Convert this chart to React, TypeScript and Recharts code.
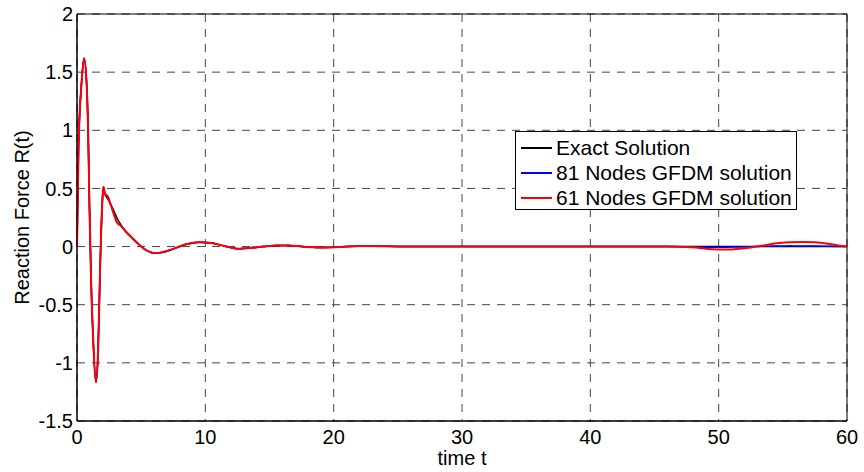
import { LineChart, Line, XAxis, YAxis, CartesianGrid, ReferenceArea, Legend, Label } from 'recharts'

const tValues = [
  0, 0.12, 0.35, 0.55, 0.75, 0.87, 0.97, 1.1, 1.25, 1.48,
  1.64, 1.8, 1.97, 2.05, 2.18, 2.4, 2.6, 2.9, 3.1, 3.4,
  3.8, 4.3, 4.8, 5.3, 6.0, 6.6, 7.5, 8.5, 9.5, 10.5,
  11.5, 12.5, 13.5, 14.5, 15.5, 16.5, 17.5, 19, 20.5, 22,
  24, 27, 30, 35, 40, 44, 46, 47.5, 48.5, 49.5,
  50.5, 51.5, 52.5, 53.5, 54.5, 55.5, 56.5, 57.5, 58.5, 59.3,
  60,
]

const exactValues = [
  0, 0.86, 1.4, 1.62, 1.4, 0.98, 0.35, -0.3, -0.77, -1.165,
  -0.91, -0.19, 0.38, 0.5, 0.45, 0.41, 0.37, 0.3, 0.25, 0.19,
  0.13, 0.075, 0.02, -0.025, -0.055, -0.05, -0.02, 0.02, 0.038, 0.03,
  0.005, -0.018, -0.012, 0, 0.01, 0.01, 0, -0.008, -0.004, 0.004,
  0.002, 0, 0, 0, 0, 0, 0, 0, 0, 0,
  0, 0, 0, 0, 0, 0, 0, 0, 0, 0,
  0,
]

const nodes81Values = [
  0, 0.86, 1.4, 1.62, 1.4, 0.98, 0.35, -0.3, -0.77, -1.165,
  -0.91, -0.19, 0.38, 0.515, 0.455, 0.43, 0.37, 0.27, 0.21, 0.18,
  0.13, 0.075, 0.02, -0.025, -0.055, -0.05, -0.02, 0.02, 0.038, 0.03,
  0.005, -0.018, -0.012, 0, 0.01, 0.01, 0, -0.008, -0.004, 0.004,
  0.002, 0, 0, 0, 0, 0, 0, -0.002, -0.004, -0.006,
  -0.006, -0.004, -0.001, 0.003, 0.005, 0.006, 0.005, 0.004, 0.002, 0.001,
  0,
]

const nodes61Values = [
  0, 0.86, 1.4, 1.62, 1.4, 0.98, 0.35, -0.3, -0.77, -1.165,
  -0.91, -0.19, 0.38, 0.515, 0.455, 0.43, 0.37, 0.27, 0.21, 0.18,
  0.13, 0.075, 0.02, -0.025, -0.055, -0.05, -0.02, 0.02, 0.038, 0.03,
  0.005, -0.018, -0.012, 0, 0.01, 0.01, 0, -0.008, -0.004, 0.004,
  0.002, 0, 0, 0, 0, 0, 0, -0.003, -0.012, -0.022,
  -0.025, -0.02, -0.008, 0.01, 0.028, 0.037, 0.04, 0.037, 0.025, 0.01,
  0,
]

const xTicks = [0, 10, 20, 30, 40, 50, 60]
const yTicks = [-1.5, -1, -0.5, 0, 0.5, 1, 1.5, 2]

const seriesNames = ['Exact Solution', '81 Nodes GFDM solution', '61 Nodes GFDM solution']
const seriesColors = ['#000000', '#0000ff', '#ff0000']

const data = tValues.map((t, i) => ({
  t,
  exact: exactValues[i],
  n81: nodes81Values[i],
  n61: nodes61Values[i],
}))

const font = '"Liberation Sans", Arial, sans-serif'

function LegendBox() {
  return (
    <div
      style={{
        width: 282,
        height: 79,
        border: '1px solid #000',
        background: '#fff',
        fontFamily: font,
        fontSize: 21,
        color: '#000',
        padding: '3px 0 0 5px',
        boxSizing: 'border-box',
      }}
    >
      {seriesNames.map((name, i) => (
        <div key={name} style={{ display: 'flex', alignItems: 'center', height: 25, whiteSpace: 'nowrap' }}>
          <span style={{ display: 'inline-block', width: 31, height: 2, background: seriesColors[i], marginRight: 4 }} />
          {name}
        </div>
      ))}
    </div>
  )
}

export default function App() {
  return (
    <div style={{ position: 'absolute', left: 0, top: 0, width: 864, height: 472, background: '#fff' }}>
      <LineChart width={864} height={472} data={data} margin={{ top: 14, right: 17, bottom: 21, left: 17 }}>
        <CartesianGrid stroke="#444" strokeDasharray="8 7" horizontal vertical />
        <XAxis
          dataKey="t"
          type="number"
          domain={[0, 60]}
          ticks={xTicks}
          height={30}
          tickSize={0}
          tickMargin={9}
          axisLine={{ stroke: '#000' }}
          tick={{ fill: '#000', fontSize: 20, fontFamily: font }}
          interval={0}
        >
          <Label value="time t" position="bottom" offset={0} style={{ fill: '#000', fontSize: 20, fontFamily: font }} />
        </XAxis>
        <YAxis
          type="number"
          domain={[-1.5, 2]}
          ticks={yTicks}
          width={60}
          tickSize={0}
          tickMargin={4}
          axisLine={{ stroke: '#000' }}
          tick={{ fill: '#000', fontSize: 20, fontFamily: font }}
          interval={0}
        >
          <Label
            content={(props: any) => {
              const vb = props.viewBox || { y: 14, height: 407 }
              const cx = 22
              const cy = vb.y + vb.height / 2
              return (
                <text
                  x={cx}
                  y={cy}
                  transform={`rotate(-90 ${cx} ${cy})`}
                  textAnchor="middle"
                  dominantBaseline="central"
                  style={{ fill: '#000', fontSize: 20, fontFamily: font }}
                >
                  Reaction Force R(t)
                </text>
              )
            }}
          />
        </YAxis>
        <ReferenceArea x1={0} x2={60} y1={-1.5} y2={2} fill="none" stroke="#000" strokeWidth={1} ifOverflow="visible" />
        <Line type="monotone" dataKey="exact" stroke="#000000" strokeWidth={1.5} dot={false} isAnimationActive={false} />
        <Line type="monotone" dataKey="n81" stroke="#0000ff" strokeWidth={1.5} dot={false} isAnimationActive={false} />
        <Line type="monotone" dataKey="n61" stroke="#ff0000" strokeWidth={2} dot={false} isAnimationActive={false} />
        <Legend
          layout="vertical"
          align="center"
          verticalAlign="middle"
          content={() => <LegendBox />}
          wrapperStyle={{ position: 'absolute', left: 515, top: 131, width: 282, height: 79 }}
        />
      </LineChart>
    </div>
  )
}
